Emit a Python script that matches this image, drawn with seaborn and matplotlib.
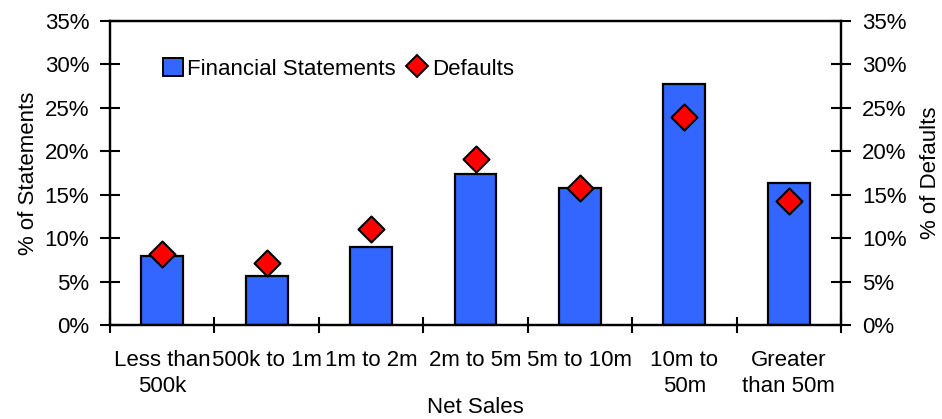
import numpy as np
import pandas as pd
import matplotlib
matplotlib.use("Agg")
import matplotlib.pyplot as plt
from matplotlib.ticker import FixedLocator, PercentFormatter
from matplotlib.patches import Patch
from matplotlib.lines import Line2D
import seaborn as sns

categories = ["Less than\n500k", "500k to 1m", "1m to 2m", "2m to 5m",
              "5m to 10m", "10m to\n50m", "Greater\nthan 50m"]
statements_pct = [8.0, 5.7, 9.0, 17.4, 15.8, 27.8, 16.3]
defaults_pct = [8.2, 7.1, 11.0, 19.1, 15.8, 24.0, 14.3]
y_ticks = [0, 5, 10, 15, 20, 25, 30, 35]

sns.set_style("white")
plt.rcParams["font.family"] = ["Liberation Sans", "DejaVu Sans"]
plt.rcParams["text.color"] = "black"
plt.rcParams["axes.labelcolor"] = "black"
plt.rcParams["xtick.color"] = "black"
plt.rcParams["ytick.color"] = "black"
FS = 16

df = pd.DataFrame({"category": categories,
                   "pos": np.arange(len(categories)),
                   "statements": statements_pct,
                   "defaults": defaults_pct})

fig = plt.figure(figsize=(9.42, 4.19), dpi=100)
ax = fig.add_axes([0.1168, 0.2243, 0.7760, 0.7256])

bar_color = "#3366FF"
sns.barplot(data=df, x="category", y="statements", order=categories,
            color=bar_color, edgecolor="black", linewidth=1.6,
            width=0.40, saturation=1, ax=ax)

ax2 = ax.twinx()
sns.scatterplot(data=df, x="pos", y="defaults", marker="D", s=175,
                color="#FF0000", edgecolor="black", linewidth=1.5,
                zorder=5, ax=ax2, legend=False)

n = len(categories)
for a in (ax, ax2):
    a.set_ylim(0, 35)
    a.yaxis.set_major_locator(FixedLocator(y_ticks))
    a.yaxis.set_major_formatter(PercentFormatter(decimals=0))
    a.tick_params(axis="y", which="major", direction="inout", length=14,
                  width=1.5, labelsize=FS, color="black", labelcolor="black",
                  pad=8)
    for sp in a.spines.values():
        sp.set_visible(True)
        sp.set_color("black")
        sp.set_linewidth(1.6)
ax.set_xlim(-0.5, n - 0.5)
ax2.set_xlim(-0.5, n - 0.5)

# ticks at category boundaries, labels centred under each bar
ax.xaxis.set_major_locator(FixedLocator(np.arange(n + 1) - 0.5))
ax.xaxis.set_minor_locator(FixedLocator(np.arange(n)))
ax.set_xticklabels([""] * (n + 1))
ax.set_xticklabels(categories, minor=True, fontsize=FS, linespacing=1.3)
ax.tick_params(axis="x", which="major", direction="inout", length=12,
               width=1.5, color="black", bottom=True)
ax.tick_params(axis="x", which="minor", length=0, pad=18, labelcolor="black")
for lbl in ax.get_xticklabels(minor=True):
    lbl.set_verticalalignment("top")

ax.tick_params(axis="y", left=True, right=False)
ax2.tick_params(axis="y", left=False, right=True)

ax.set_xlabel("Net Sales", fontsize=FS, labelpad=0)
ax.set_ylabel("% of Statements", fontsize=FS, labelpad=4)
ax2.set_ylabel("% of Defaults", fontsize=FS, labelpad=10)

handles = [Patch(facecolor=bar_color, edgecolor="black", linewidth=1.4),
           Line2D([], [], marker="D", linestyle="none", markersize=11,
                  markerfacecolor="#FF0000", markeredgecolor="black",
                  markeredgewidth=1.4)]
ax.legend(handles, ["Financial Statements", "Defaults"], ncol=2,
          loc="center left", bbox_to_anchor=(0.0725, 0.843), frameon=False,
          fontsize=FS, handlelength=0.9, handleheight=0.9,
          handletextpad=0.2, columnspacing=0.5, borderpad=0, borderaxespad=0)

fig.savefig("out.png", dpi=100)
